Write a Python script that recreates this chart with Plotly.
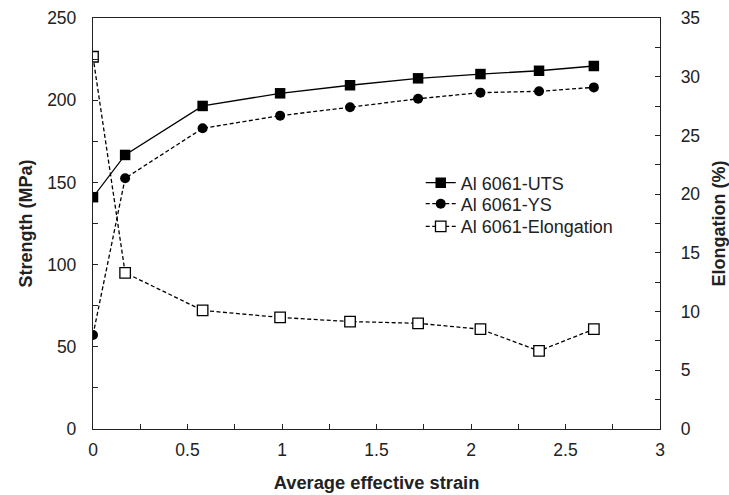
import plotly.graph_objects as go

strain = [0, 0.17, 0.58, 0.99, 1.36, 1.72, 2.05, 2.36, 2.65]
uts = [141.0, 166.7, 196.5, 204.2, 209.1, 213.3, 215.9, 217.9, 220.8]
ys = [57.2, 152.5, 182.9, 190.6, 195.7, 200.9, 204.6, 205.4, 207.8]
elong = [31.7, 13.3, 10.1, 9.5, 9.15, 9.0, 8.5, 6.65, 8.5]

FONT = "Arial, Liberation Sans, sans-serif"
DASH = "4px,2.5px"

fig = go.Figure()
fig.add_trace(go.Scatter(
    x=strain, y=uts, name="Al 6061-UTS", mode="lines+markers",
    legend="legend",
    line=dict(color="black", width=1.3),
    marker=dict(symbol="square", size=10.5, color="black"),
))
fig.add_trace(go.Scatter(
    x=strain, y=ys, name="Al 6061-YS", mode="lines+markers",
    legend="legend2",
    line=dict(color="black", width=1.3, dash=DASH),
    marker=dict(symbol="circle", size=10, color="black"),
))
fig.add_trace(go.Scatter(
    x=strain, y=elong, name="Al 6061-Elongation", mode="lines+markers",
    yaxis="y2", legend="legend3",
    line=dict(color="black", width=1.3, dash=DASH),
    marker=dict(symbol="square", size=10.5, color="white",
                line=dict(color="black", width=1.3)),
))

axis_common = dict(
    showgrid=False, zeroline=False, showline=True, linecolor="#222",
    linewidth=1.3, ticks="inside", ticklen=5, tickcolor="#222", tickwidth=1.2,
    tickfont=dict(family=FONT, size=17.5, color="#222"),
    automargin=False,
)

def leg(y):
    return dict(
        x=0.578, y=y, xanchor="left", yanchor="top",
        bgcolor="rgba(0,0,0,0)", borderwidth=0,
        font=dict(family=FONT, size=18, color="#222"),
    )

fig.update_layout(
    width=729, height=495,
    margin=dict(l=93, r=69, t=18, b=66),
    paper_bgcolor="white", plot_bgcolor="white",
    font=dict(family=FONT, color="#222"),
    showlegend=True,
    legend=leg(0.6436),
    legend2=leg(0.5925),
    legend3=leg(0.5373),
    xaxis=dict(
        range=[0, 3], dtick=0.5, tick0=0, mirror=True,
        minor=dict(dtick=0.25, ticks="inside", ticklen=5, tickcolor="#222"),
        title=dict(text="<b>Average effective strain</b>", standoff=17,
                   font=dict(family=FONT, size=18.3, color="#222")),
        ticklabelstandoff=5,
        **axis_common,
    ),
    yaxis=dict(
        range=[0, 250], dtick=50, tick0=0,
        minor=dict(dtick=25, ticks="inside", ticklen=5, tickcolor="#222"),
        title=dict(text="<b>Strength (MPa)</b>", standoff=9,
                   font=dict(family=FONT, size=18, color="#222")),
        ticklabelstandoff=12,
        **axis_common,
    ),
    yaxis2=dict(
        range=[0, 35], dtick=5, tick0=0, overlaying="y", side="right",
        minor=dict(dtick=2.5, ticks="inside", ticklen=5, tickcolor="#222"),
        title=dict(text="<b>Elongation (%)</b>", standoff=14,
                   font=dict(family=FONT, size=18, color="#222")),
        ticklabelstandoff=16,
        **axis_common,
    ),
)

fig.write_html("out.html")
